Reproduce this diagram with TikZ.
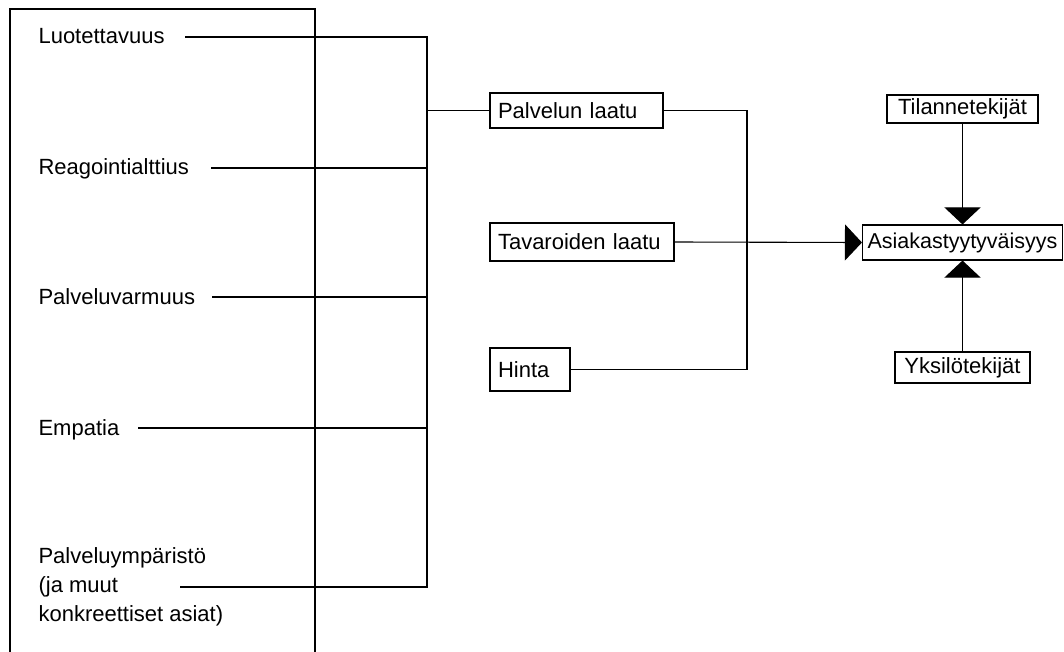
\documentclass[tikz,border=0pt]{standalone}
\usepackage{fontspec}
\setmainfont{Liberation Sans}
\usetikzlibrary{arrows.meta}
\begin{document}
\begin{tikzpicture}[x=1pt,y=-1pt,line width=1.1pt,
  txt/.style={font=\fontsize{22}{29}\selectfont},
  lbl/.style={txt,anchor=base west,inner sep=0pt,align=left},
  box/.style={txt,draw,inner xsep=8pt,inner ysep=0pt},
  tip/.style={-{Triangle[width=36pt,length=17pt]}}]
\useasboundingbox (0,0) rectangle (1064,652);
% frame on the left
\draw (10,652) -- (10,9) -- (315,9) -- (315,652);
% left labels
\node[lbl] (luo) at (38,44) {Luotettavuus};
\node[lbl] (rea) at (38,175) {Reagointialttius};
\node[lbl] (pva) at (38,304) {Palveluvarmuus};
\node[lbl] (emp) at (38,435) {Empatia};
\node[lbl] (pym) at (38,621) {Palveluympäristö\\(ja muut\\konkreettiset asiat)};
\coordinate (luoS) at (185,37);
\coordinate (reaS) at (211,168);
\coordinate (pvaS) at (212,297);
\coordinate (empS) at (138,428);
\coordinate (pymS) at (180,587);
\coordinate (b1) at (427,37);
\coordinate (b5) at (427,587);
\draw (luoS) -- (b1) -- (b5) -- (pymS);
\draw (reaS) -- (reaS -| b1);
\draw (pvaS) -- (pvaS -| b1);
\draw (empS) -- (empS -| b1);
% middle boxes
\node[box,minimum height=35pt,text width=157pt,align=left] (pal) at (576.5,110.5) {Palvelun laatu};
\node[box,minimum height=38pt,text width=168pt,align=left] (tav) at (582,242) {Tavaroiden laatu};
\node[box,minimum height=43pt,text width=64pt,align=left] (hin) at (530,369.5) {Hinta};
\draw (b1 |- pal) -- (pal.west);
\coordinate (r1) at (747,110.5);
\coordinate (r2) at (747,369.5);
\draw (pal.east) -- (r1) -- (r2) -- (hin.east);
% right side
\node[box,font=\fontsize{21.5}{29}\selectfont,inner xsep=5pt,minimum height=35pt,text width=190pt,align=left] (asi) at (962.5,242.5) {Asiakastyytyväisyys};
\node[box,minimum height=28pt,minimum width=151pt] (til) at (962.5,109) {Tilannetekijät};
\node[box,minimum height=31pt,minimum width=135pt] (yks) at (962.5,367.5) {Yksilötekijät};
\draw[tip] (tav.east) -- (asi.west);
\draw[tip] (til.south) -- (asi.north);
\draw[tip] (yks.north) -- (asi.south);
\end{tikzpicture}
\end{document}
